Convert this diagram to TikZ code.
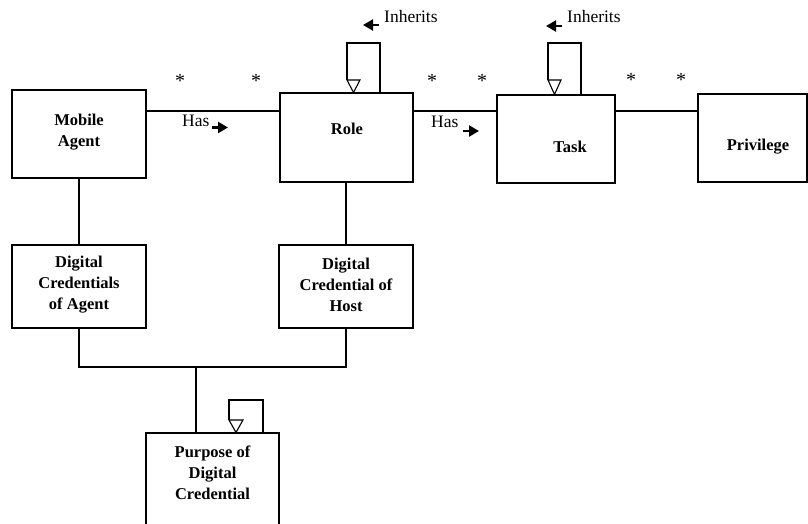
\documentclass[tikz,border=0pt]{standalone}
\usepackage{fontspec}
\setmainfont{Liberation Serif}
\usetikzlibrary{arrows.meta,calc}
\begin{document}
\begin{tikzpicture}[x=1pt,y=-1pt,
  box/.style={draw,line width=1.1pt,inner sep=0pt},
  lbl/.style={font=\fontsize{16.5}{21}\selectfont\bfseries,align=center,inner sep=0pt},
  txt/.style={font=\fontsize{17.5}{21}\selectfont,inner sep=0pt,anchor=base west},
  star/.style={font=\fontsize{20}{21}\selectfont,inner sep=0pt,anchor=base},
  conn/.style={line width=1.1pt},
  dirarrow/.style={line width=2.2pt,-{Triangle[length=10pt,width=11pt]}},
  inh/.style={line width=1.1pt,fill=white}]
\useasboundingbox (0,0) rectangle (808,524);
% boxes
\node[box,minimum width=134pt,minimum height=88pt] (ma) at (79,134) {};
\node[box,minimum width=133pt,minimum height=89pt] (role) at (346.5,137.5) {};
\node[box,minimum width=118pt,minimum height=88pt] (task) at (556,139) {};
\node[box,minimum width=109pt,minimum height=88pt] (priv) at (752.5,138) {};
\node[box,minimum width=134pt,minimum height=83pt] (dca) at (79,286.5) {};
\node[box,minimum width=134pt,minimum height=83pt] (dch) at (346,286.5) {};
\node[box,minimum width=133pt,minimum height=107pt] (pur) at (212.5,486.5) {};
% labels
\node[lbl] (tma) at (79,132) {Mobile\\Agent};
\node[lbl] (trole) at (347,129) {Role};
\node[lbl] (ttask) at (570,147) {Task};
\node[lbl] (tpriv) at (758,147) {Privilege};
\node[lbl] (tdca) at (79,285) {Digital\\Credentials\\of Agent};
\node[lbl] (tdch) at (346,285) {Digital\\Credential of\\Host};
\node[lbl] (tpur) at (212.5,473) {Purpose of\\Digital\\Credential};
% associations
\draw[conn] (ma.east |- 0,111) -- (role.west |- 0,111);
\draw[conn] (role.east |- 0,111) -- (task.west |- 0,111);
\draw[conn] (task.east |- 0,111) -- (priv.west |- 0,111);
\draw[conn] (ma.south) -- (dca.north);
\draw[conn] (dch.north |- role.south) -- (dch.north);
\coordinate (j) at (196,367);
\draw[conn] (dca.south) |- (j);
\draw[conn] (dch.south) |- (j);
\draw[conn] (j) -- (pur.north -| j);
% inheritance loops
\draw[conn] (347,80) -- (347,43) -- (380,43) -- (role.north -| 380,0);
\draw[inh] (347,80) -- (360,80) -- (role.north -| 353.5,0) -- cycle;
\draw[conn] (548,80) -- (548,43) -- (581,43) -- (task.north -| 581,0);
\draw[inh] (548,80) -- (561,80) -- (task.north -| 554.5,0) -- cycle;
\draw[conn] (229,420) -- (229,400) -- (263,400) -- (pur.north -| 263,0);
\draw[inh] (229,420) -- (243,420) -- (pur.north -| 236,0) -- cycle;
% multiplicities
\node[star] (s1) at (180,88) {*};
\node[star] (s2) at (256,88) {*};
\node[star] (s3) at (432,88) {*};
\node[star] (s4) at (482,88) {*};
\node[star] (s5) at (631,87) {*};
\node[star] (s6) at (681,87) {*};
% association names
\node[txt] (has1) at (182,127) {Has};
\draw[dirarrow] (212,127.5) -- (228,127.5);
\node[txt] (has2) at (431,128) {Has};
\draw[dirarrow] (463,131) -- (479,131);
\node[txt] (inh1) at (384,23) {Inherits};
\draw[dirarrow] (379,25) -- (363,25);
\node[txt] (inh2) at (567,23) {Inherits};
\draw[dirarrow] (562,26) -- (546,26);
\end{tikzpicture}
\end{document}
